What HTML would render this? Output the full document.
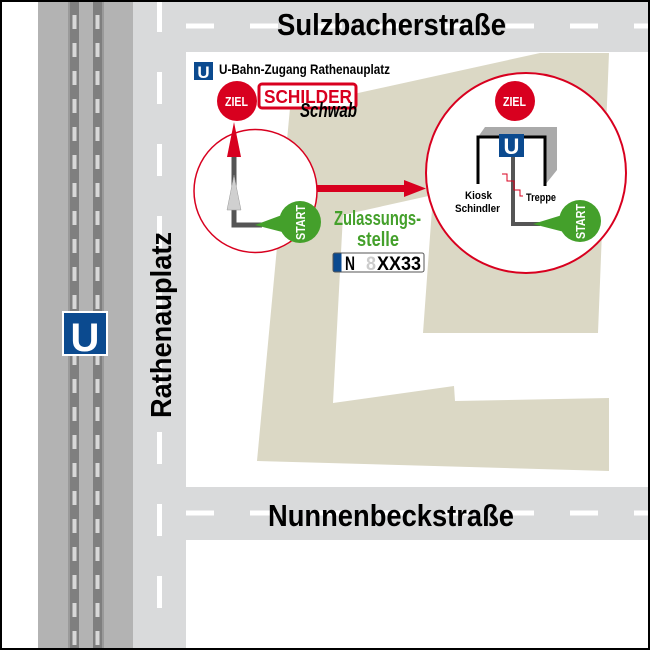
<!DOCTYPE html>
<html><head><meta charset="utf-8"><style>
html,body{margin:0;padding:0;background:#fff}
svg{display:block}
text{font-family:"Liberation Sans",sans-serif;font-weight:bold}
</style></head><body>
<svg width="650" height="650" viewBox="0 0 650 650" xmlns="http://www.w3.org/2000/svg">
<rect x="0" y="0" width="650" height="650" fill="#fff"/>
<rect x="133" y="0" width="53" height="650" fill="#d9dadb"/>
<rect x="133" y="0" width="517" height="52" fill="#d9dadb"/>
<rect x="133" y="487" width="517" height="53" fill="#d9dadb"/>
<line x1="159.5" y1="0" x2="159.5" y2="650" stroke="#fff" stroke-width="5" stroke-dasharray="32 40"/>
<line x1="186" y1="26" x2="650" y2="26" stroke="#fff" stroke-width="5" stroke-dasharray="28 36"/>
<line x1="186" y1="513" x2="650" y2="513" stroke="#fff" stroke-width="5" stroke-dasharray="28 36"/>
<rect x="38" y="0" width="95" height="650" fill="#b3b3b3"/>
<rect x="68" y="0" width="2" height="650" fill="#9a9a9a"/>
<rect x="70" y="0" width="9" height="650" fill="#7f7f7f"/>
<rect x="93" y="0" width="9" height="650" fill="#7f7f7f"/>
<rect x="102" y="0" width="2" height="650" fill="#9a9a9a"/>
<line x1="74.5" y1="15" x2="74.5" y2="650" stroke="#d8d8d8" stroke-width="4" stroke-dasharray="14 14"/>
<line x1="97.5" y1="15" x2="97.5" y2="650" stroke="#d8d8d8" stroke-width="4" stroke-dasharray="14 14"/>
<rect x="62" y="311" width="46" height="45" fill="#fff"/>
<rect x="64" y="313" width="42" height="41" fill="#0b4a8f"/>
<text x="85" y="351" font-size="40" fill="#fff" text-anchor="middle">U</text>
<polygon points="290,108 540,53 609,53 598,333 423,333 433,195 343,215 333,403 454,386 455,401 609,398 609,471 257,461" fill="#dbd8c5"/>
<text x="277" y="35" font-size="31" fill="#000" textLength="229" lengthAdjust="spacingAndGlyphs">Sulzbacherstraße</text>
<text x="268" y="526" font-size="31" fill="#000" textLength="246" lengthAdjust="spacingAndGlyphs">Nunnenbeckstraße</text>
<text transform="translate(171,418) rotate(-90)" font-size="29" fill="#000" textLength="186" lengthAdjust="spacingAndGlyphs">Rathenauplatz</text>
<rect x="194" y="62" width="19" height="18" fill="#0b4a8f"/>
<text x="203.5" y="78" font-size="17" fill="#fff" text-anchor="middle">U</text>
<text x="219" y="74" font-size="14" fill="#000" textLength="171" lengthAdjust="spacingAndGlyphs">U-Bahn-Zugang Rathenauplatz</text>
<rect x="259" y="84" width="97" height="24" rx="3" fill="#fff" stroke="#d8001f" stroke-width="3"/>
<text x="264" y="103" font-size="18" fill="#d8001f" textLength="88" lengthAdjust="spacingAndGlyphs">SCHILDER</text>
<text x="300" y="117" font-size="20" fill="#000" font-style="italic" font-weight="normal" font-family="Liberation Serif" textLength="57" lengthAdjust="spacingAndGlyphs">Schwab</text>
<circle cx="255.5" cy="191" r="61.5" fill="#fff" stroke="#d8001f" stroke-width="1.5"/>
<polyline points="234,150 234,225 262,225" fill="none" stroke="#555" stroke-width="5"/>
<polygon points="234,122 227,157 241,157" fill="#d8001f"/>
<polygon points="234,175 227,210 241,210" fill="#d0d0d0" stroke="#999" stroke-width="0.5"/>
<polygon points="255,225 290,212 290,234" fill="#44a02b"/>
<circle cx="300" cy="222" r="21" fill="#44a02b"/>
<text transform="translate(305,240) rotate(-90)" font-size="13" fill="#fff" textLength="35" lengthAdjust="spacingAndGlyphs">START</text>
<circle cx="237" cy="101" r="20" fill="#d8001f"/>
<text x="225" y="106" font-size="13" fill="#fff" textLength="23" lengthAdjust="spacingAndGlyphs">ZIEL</text>
<rect x="317" y="185" width="90" height="7" fill="#d8001f"/>
<polygon points="404,180 426,188.5 404,197" fill="#d8001f"/>
<text x="334" y="225" font-size="20" fill="#44a02b" textLength="87" lengthAdjust="spacingAndGlyphs">Zulassungs-</text>
<text x="357" y="246" font-size="20" fill="#44a02b" textLength="42" lengthAdjust="spacingAndGlyphs">stelle</text>
<rect x="333" y="253" width="91" height="19" rx="2" fill="#fff" stroke="#555" stroke-width="1"/>
<rect x="333.5" y="253.5" width="8" height="18" fill="#0b4a8f"/>
<text x="345" y="270" font-size="19" fill="#000" font-weight="normal" textLength="10" lengthAdjust="spacingAndGlyphs">N</text>
<text x="366" y="270" font-size="19" fill="#ccc" font-weight="normal" textLength="10" lengthAdjust="spacingAndGlyphs">8</text>
<text x="377" y="270" font-size="19" fill="#000" font-weight="normal" textLength="44" lengthAdjust="spacingAndGlyphs">XX33</text>
<circle cx="526" cy="173" r="100" fill="#fff" stroke="#d8001f" stroke-width="2"/>
<circle cx="515" cy="101" r="20" fill="#d8001f"/>
<text x="503" y="106" font-size="13" fill="#fff" textLength="23" lengthAdjust="spacingAndGlyphs">ZIEL</text>
<polygon points="478,137 485,127 557,127 557,170 545,185 545,137" fill="#aaa"/>
<polyline points="478,184 478,137 545,137 545,186" fill="none" stroke="#000" stroke-width="3"/>
<polyline points="513,157 513,224 540,224" fill="none" stroke="#555" stroke-width="4"/>
<polyline points="502,174 507,174 507,181 514,181 514,190 520,190 520,196 523,196" fill="none" stroke="#d8001f" stroke-width="1"/>
<rect x="499" y="134" width="25" height="23" fill="#0b4a8f"/>
<text x="511.5" y="154" font-size="22" fill="#fff" text-anchor="middle">U</text>
<text x="465" y="199" font-size="11" fill="#000" textLength="27" lengthAdjust="spacingAndGlyphs">Kiosk</text>
<text x="455" y="212" font-size="11" fill="#000" textLength="45" lengthAdjust="spacingAndGlyphs">Schindler</text>
<text x="526" y="201" font-size="11" fill="#000" textLength="30" lengthAdjust="spacingAndGlyphs">Treppe</text>
<polygon points="533,224 572,212 572,234" fill="#44a02b"/>
<circle cx="580" cy="221" r="21" fill="#44a02b"/>
<text transform="translate(585,239) rotate(-90)" font-size="13" fill="#fff" textLength="35" lengthAdjust="spacingAndGlyphs">START</text>
<rect x="1" y="1" width="648" height="648" fill="none" stroke="#000" stroke-width="2"/>
</svg>
</body></html>
